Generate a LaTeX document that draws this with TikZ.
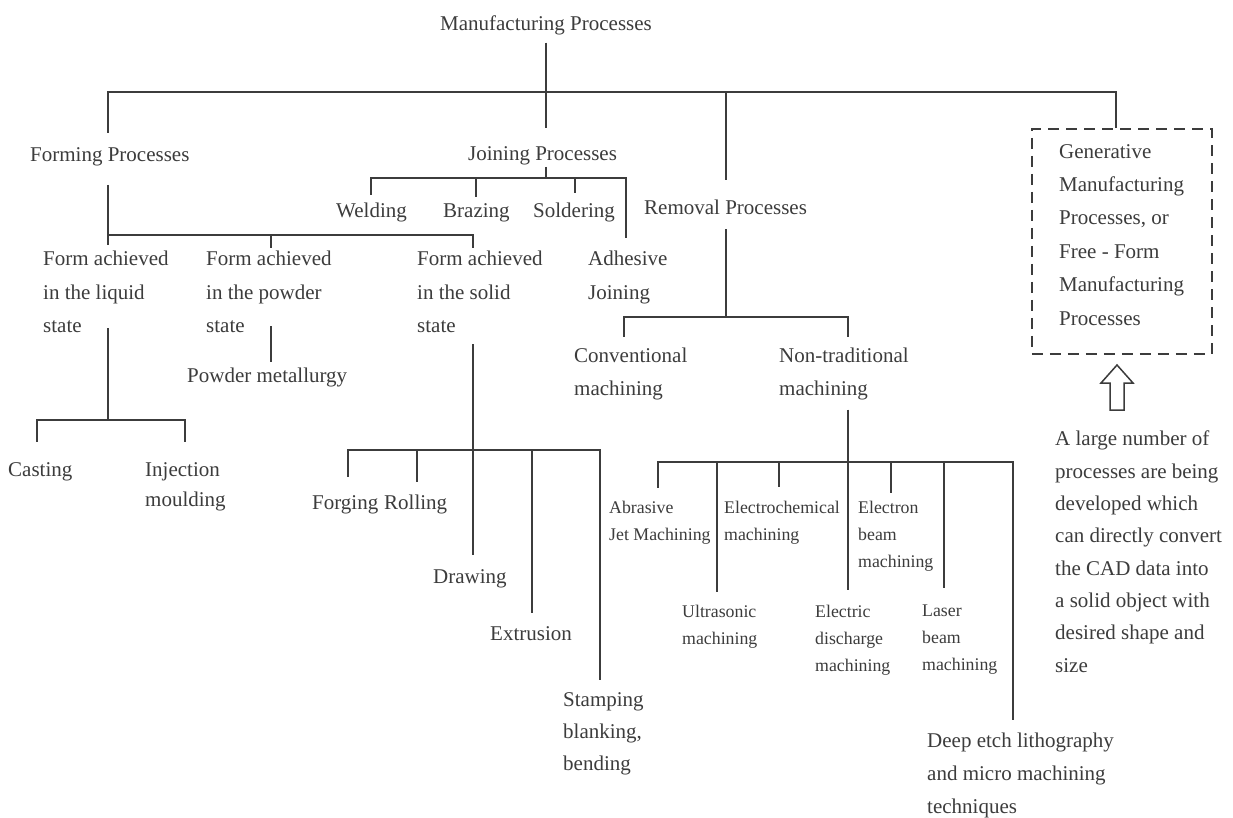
\documentclass[tikz,border=0pt]{standalone}
\usepackage{fontspec}
\setmainfont{Liberation Serif}
\definecolor{ink}{HTML}{3C3C3C}
\tikzset{
  lbl/.style={inner sep=0pt, anchor=north west, align=left, text=ink,
              font=\fontsize{21}{33.5}\selectfont},
  sml/.style={lbl, font=\fontsize{17.8}{27}\selectfont},
  conn/.style={draw=ink, line width=1.8pt},
  bus/.style={draw=ink, line width=2.6pt, line cap=rect},
  dbox/.style={draw=ink, line width=1.5pt, dash pattern=on 11pt off 7pt, inner sep=0pt}
}
\begin{document}
\begin{tikzpicture}[x=1pt,y=-1pt]
\fill[white] (0,0) rectangle (1233,817);
\useasboundingbox (0,0) rectangle (1233,817);

% ---------- labels ----------
\node[lbl, anchor=north] (mp) at (546,16) {Manufacturing Processes};
\node[lbl] (fp) at (30,147) {Forming Processes};
\node[lbl] (jp) at (468,146) {Joining Processes};
\node[lbl] (rp) at (644,200) {Removal Processes};
\node[dbox, anchor=north west, minimum width=180pt, minimum height=225pt] (gbox) at (1031,128) {};
\node[lbl, font=\fontsize{21}{33.4}\selectfont] (gmp) at (1059,144)
  {Generative\\Manufacturing\\Processes, or\\Free - Form\\Manufacturing\\Processes};

\node[lbl] (wel) at (336,203) {Welding};
\node[lbl] (bra) at (443,203) {Brazing};
\node[lbl] (sol) at (533,203) {Soldering};
\node[lbl] (adh) at (588,251) {Adhesive\\Joining};

\node[lbl] (fl) at (43,251) {Form achieved\\in the liquid\\state};
\node[lbl] (fpw) at (206,251) {Form achieved\\in the powder\\state};
\node[lbl] (fs) at (417,251) {Form achieved\\in the solid\\state};
\node[lbl] (pmet) at (187,368) {Powder metallurgy};

\node[lbl] (cast) at (8,462) {Casting};
\node[lbl, font=\fontsize{21}{30}\selectfont] (inj) at (145,462) {Injection\\moulding};

\node[lbl] (forg) at (312,495) {Forging};
\node[lbl] (roll) at (384,495) {Rolling};
\node[lbl] (drw) at (433,569) {Drawing};
\node[lbl] (extr) at (490,626) {Extrusion};
\node[lbl, font=\fontsize{21}{32}\selectfont] (stamp) at (563,692) {Stamping\\blanking,\\bending};

\node[lbl, font=\fontsize{21}{33}\selectfont] (cm) at (574,348) {Conventional\\machining};
\node[lbl, font=\fontsize{21}{33}\selectfont] (nt) at (779,348) {Non-traditional\\machining};

\node[sml] (abr) at (609,501) {Abrasive\\Jet Machining};
\node[sml] (ecm) at (724,501) {Electrochemical\\machining};
\node[sml] (ebm) at (858,501) {Electron\\beam\\machining};
\node[sml] (ult) at (682,605) {Ultrasonic\\machining};
\node[sml] (edm) at (815,605) {Electric\\discharge\\machining};
\node[sml] (lbm) at (922,605) {Laser\\beam\\machining};
\node[lbl, font=\fontsize{21}{33}\selectfont] (deep) at (927,733)
  {Deep etch lithography\\and micro machining\\techniques};

\node[lbl, font=\fontsize{21}{32.3}\selectfont] (note) at (1055,431)
  {A large number of\\processes are being\\developed which\\can directly convert\\the CAD data into\\a solid object with\\desired shape and\\size};

% ---------- top level ----------
\coordinate (mb) at (546,92);
\coordinate (fx) at (108,92);
\coordinate (rx) at (726,92);
\coordinate (gx) at (1116,92);
\draw[conn, shorten <=7pt] (mp.south) -- (mp.south |- mb);
\draw[bus] (fx) -- (gx);
\draw[conn, shorten >=14pt] (fx) -- (fp.north -| fx);
\draw[conn, shorten >=18pt] (mb) -- (jp.north -| mb);
\draw[conn, shorten >=20pt] (rx) -- (rp.north -| rx);
\draw[conn] (gx) -- (gbox.north -| gx);

% ---------- forming ----------
\coordinate (f0) at (108,235);
\coordinate (f1) at (271,235);
\coordinate (f2) at (473,235);
\draw[conn, shorten <=19pt] (fp.south -| f0) -- (f0);
\draw[bus] (f0) -- (f2);
\draw[conn, shorten >=6pt] (f0) -- (fl.north -| f0);
\draw[conn, shorten >=3pt] (f1) -- (fpw.north -| f1);
\draw[conn, shorten >=3pt] (f2) -- (fs.north -| f2);

% liquid state
\coordinate (l) at (108,420);
\coordinate (l0) at (37,420);
\coordinate (l1) at (185,420);
\draw[conn, shorten <=-5pt] (fl.south -| l) -- (l);
\draw[bus] (l0) -- (l1);
\draw[conn, shorten >=20pt] (l0) -- (cast.north -| l0);
\draw[conn, shorten >=20pt] (l1) -- (inj.north -| l1);

% powder state
\draw[conn, shorten <=-7pt, shorten >=6pt] (fpw.south -| f1) -- (pmet.north -| f1);

% solid state
\coordinate (s) at (473,450);
\coordinate (s0) at (348,450);
\coordinate (s1) at (417,450);
\coordinate (s3) at (532,450);
\coordinate (s4) at (600,450);
\draw[conn, shorten <=11pt] (fs.south -| s) -- (s);
\draw[bus] (s0) -- (s4);
\draw[conn, shorten >=18pt] (s0) -- (forg.north -| s0);
\draw[conn, shorten >=13pt] (s1) -- (roll.north -| s1);
\draw[conn, shorten >=14pt] (s) -- (drw.north -| s);
\draw[conn, shorten >=13pt] (s3) -- (extr.north -| s3);
\draw[conn, shorten >=12pt] (s4) -- (stamp.north -| s4);

% ---------- joining ----------
\coordinate (jm) at (546,178);
\coordinate (j0) at (371,178);
\coordinate (j1) at (476,178);
\coordinate (j2) at (575,178);
\coordinate (j3) at (626,178);
\draw[conn, shorten <=2pt] (jp.south -| jm) -- (jm);
\draw[bus] (j0) -- (j3);
\draw[conn, shorten >=8pt] (j0) -- (wel.north -| j0);
\draw[conn, shorten >=6pt] (j1) -- (bra.north -| j1);
\draw[conn, shorten >=10pt] (j2) -- (sol.north -| j2);
\draw[conn, shorten >=13pt] (j3) -- (adh.north -| j3);

% ---------- removal ----------
\coordinate (rm) at (726,317);
\coordinate (r0) at (624,317);
\coordinate (r1) at (848,317);
\draw[conn, shorten <=14pt] (rp.south -| rm) -- (rm);
\draw[bus] (r0) -- (r1);
\draw[conn, shorten >=11pt] (r0) -- (cm.north -| r0);
\draw[conn, shorten >=11pt] (r1) -- (nt.north -| r1);

% non-traditional machining
\coordinate (n) at (848,462);
\coordinate (n0) at (658,462);
\coordinate (n1) at (717,462);
\coordinate (n2) at (779,462);
\coordinate (n4) at (891,462);
\coordinate (n5) at (944,462);
\coordinate (n6) at (1013,462);
\draw[conn, shorten <=9pt] (nt.south -| n) -- (n);
\draw[bus] (n0) -- (n6);
\draw[conn, shorten >=13pt] (n0) -- (abr.north -| n0);
\draw[conn, shorten >=13pt] (n1) -- (ult.north -| n1);
\draw[conn, shorten >=14pt] (n2) -- (ecm.north -| n2);
\draw[conn, shorten >=15pt] (n) -- (edm.north -| n);
\draw[conn, shorten >=8pt] (n4) -- (ebm.north -| n4);
\draw[conn, shorten >=17pt] (n5) -- (lbm.north -| n5);
\draw[conn, shorten >=13pt] (n6) -- (deep.north -| n6);

% ---------- hollow arrow from the note up to the dashed box ----------
\draw[draw=ink, line width=1.5pt, line join=miter]
  (1117,365) -- (1133,383) -- (1124,383) -- (1124,410) -- (1110,410)
  -- (1110,383) -- (1101,383) -- cycle;
\end{tikzpicture}
\end{document}
